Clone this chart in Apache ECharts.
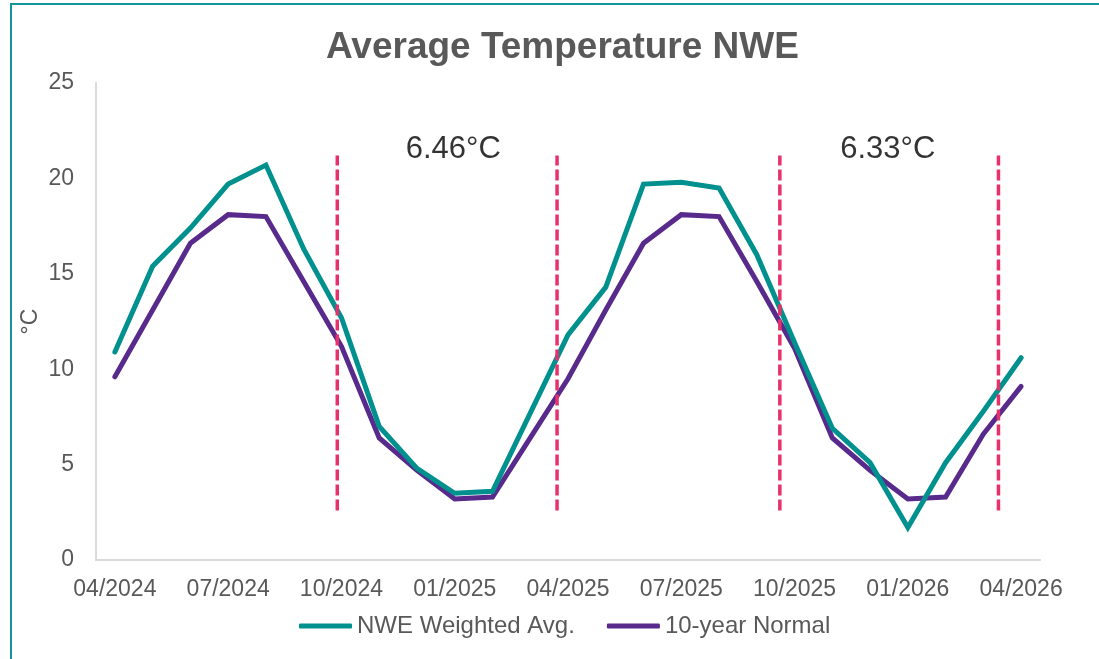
<!DOCTYPE html>
<html>
<head>
<meta charset="utf-8">
<script src="https://cdn.jsdelivr.net/npm/echarts@6/dist/echarts.min.js"></script>
<style>
html,body{margin:0;padding:0;background:#fff;}
#chart{width:1099px;height:659px;}
</style>
</head>
<body>
<div id="chart"></div>
<script>
const months = ['04/2024','05/2024','06/2024','07/2024','08/2024','09/2024','10/2024','11/2024','12/2024',
  '01/2025','02/2025','03/2025','04/2025','05/2025','06/2025','07/2025','08/2025','09/2025','10/2025',
  '11/2025','12/2025','01/2026','02/2026','03/2026','04/2026'];
const nweAvg = [10.9,15.4,17.4,19.7,20.7,16.3,12.7,7.0,4.8,3.5,3.6,7.7,
  11.8,14.3,19.7,19.8,19.5,16.0,11.4,6.9,5.1,1.7,5.1,7.8,10.6];
const normal10y = [9.6,13.1,16.6,18.1,18.0,14.6,11.2,6.4,4.7,3.2,3.3,6.4,
  9.5,13.1,16.6,18.1,18.0,14.6,11.1,6.4,4.7,3.2,3.3,6.6,9.1];
const yTicks = [0,5,10,15,20,25];
// divider lines (in month index units) and their vertical range
const dividerX = [5.89, 11.71, 17.61, 23.4];
const dividerRange = [2.6, 21.2];
// annotations
const annotationText = ['6.46°C','6.33°C'];
const annotationX = [8.96, 20.47];
const annotationY = [21.5, 21.5];

const FONT = '"Liberation Sans", Arial, sans-serif';
const chart = echarts.init(document.getElementById('chart'));

const dividerSeries = dividerX.map(x => ({
  type: 'line', xAxisIndex: 1, yAxisIndex: 0,
  data: [[x, dividerRange[0]], [x, dividerRange[1]]],
  symbol: 'none', silent: true, z: 5,
  lineStyle: { color: '#E8306B', width: 3.5, type: [11, 4] }
}));

chart.setOption({
  animation: false,
  backgroundColor: '#fff',
  textStyle: { fontFamily: FONT },
  title: {
    text: 'Average Temperature NWE',
    left: 321, top: 24,
    textStyle: { fontFamily: FONT, fontSize: 37, fontWeight: 'bold', color: '#595959' }
  },
  legend: {
    left: 294, top: 609,
    itemWidth: 53, itemHeight: 5, itemGap: 32,
    icon: 'roundRect',
    data: ['NWE Weighted Avg.', '10-year Normal'],
    textStyle: { fontFamily: FONT, fontSize: 24, color: '#595959' }
  },
  grid: { left: 96, right: 59, top: 83, bottom: 99, containLabel: false },
  xAxis: [{
    type: 'category', data: months, boundaryGap: true,
    axisLine: { show: true, onZero: false, lineStyle: { color: '#D9D9D9', width: 2 } },
    axisTick: { show: false },
    splitLine: { show: false },
    axisLabel: { interval: 2, color: '#595959', fontSize: 23, margin: 18, fontFamily: FONT }
  }, {
    type: 'value', min: -0.5, max: 24.5, show: false
  }],
  yAxis: {
    type: 'value', min: yTicks[0], max: yTicks[yTicks.length-1], interval: 5,
    name: '°C', nameLocation: 'middle', nameGap: 54, nameRotate: 90,
    nameMoveOverlap: false,
    nameTextStyle: { fontFamily: FONT, fontSize: 23, color: '#595959' },
    axisLine: { show: true, onZero: false, lineStyle: { color: '#D9D9D9', width: 2 } },
    axisTick: { show: false },
    splitLine: { show: false },
    axisLabel: { color: '#595959', fontSize: 23, margin: 22, fontFamily: FONT }
  },
  series: [{
    name: 'NWE Weighted Avg.', type: 'line', data: nweAvg,
    symbol: 'none', z: 3, color: '#00918F',
    lineStyle: { color: '#00918F', width: 5, cap: 'round', join: 'miter' }
  }, {
    name: '10-year Normal', type: 'line', data: normal10y,
    symbol: 'none', z: 2, color: '#582A8C',
    lineStyle: { color: '#582A8C', width: 5, cap: 'round', join: 'miter' }
  }, {
    type: 'scatter', xAxisIndex: 1, yAxisIndex: 0, symbolSize: 0, silent: true,
    data: annotationText.map((t, i) => [annotationX[i], annotationY[i], t]),
    label: { show: true, position: 'inside', formatter: p => p.data[2],
      fontFamily: FONT, fontSize: 31, color: '#000' }
  }].concat(dividerSeries),
  graphic: [{
    type: 'rect', silent: true, z: 100,
    shape: { x: 11, y: 4, width: 1200, height: 800 },
    style: { fill: 'none', stroke: '#12989A', lineWidth: 2 }
  }]
});
</script>
</body>
</html>
